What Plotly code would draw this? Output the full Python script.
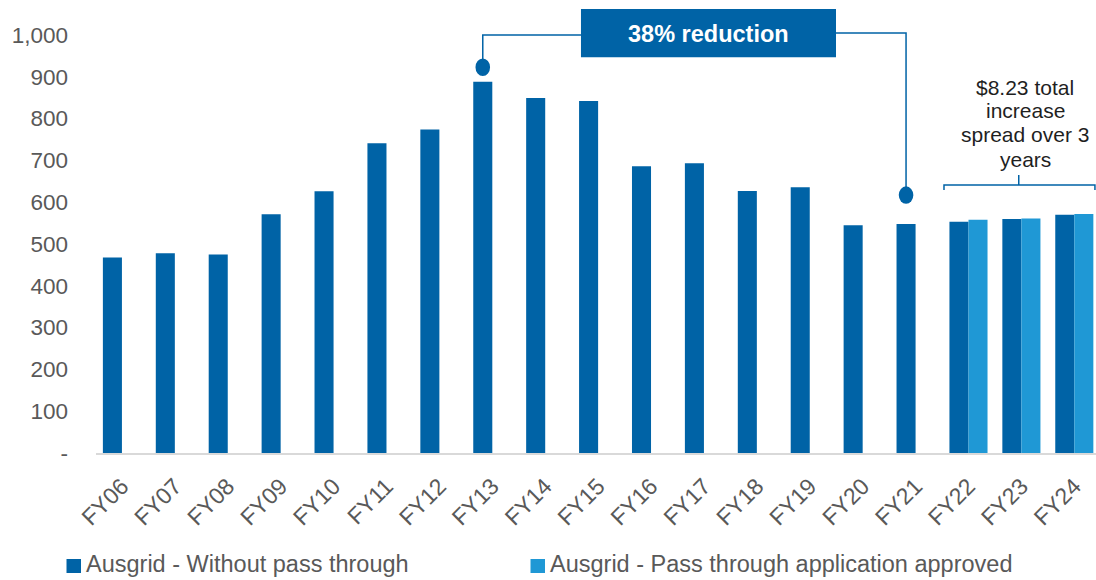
import plotly.graph_objects as go

# ---------------- data ----------------
categories = ["FY06", "FY07", "FY08", "FY09", "FY10", "FY11", "FY12", "FY13", "FY14",
              "FY15", "FY16", "FY17", "FY18", "FY19", "FY20", "FY21", "FY22", "FY23", "FY24"]
without_pass_through = [468, 478, 475, 571, 626, 741, 774, 888, 849, 842,
                        686, 693, 627, 636, 545, 548, 553, 560, 570]
with_pass_through = [None] * 16 + [558, 561, 572]
series_names = ["Ausgrid - Without pass through", "Ausgrid - Pass through application approved"]
y_tick_values = [0, 100, 200, 300, 400, 500, 600, 700, 800, 900, 1000]
y_tick_labels = ["-", "100", "200", "300", "400", "500", "600", "700", "800", "900", "1,000"]
reduction_label = "38% reduction"
bracket_lines = ["$8.23 total", "increase", "spread over 3", "years"]

# ---------------- style ----------------
DARK = "#0063A6"
LIGHT = "#1F98D5"
GREY = "#595959"
FONT = "Liberation Sans, Arial, sans-serif"
W, H = 1096, 580
ML, MB = 96, 127
PLOT_H = H - MB
PX_PER_UNIT = 0.418
Y_MAX = PLOT_H / PX_PER_UNIT
X_RANGE = [-0.49, 18.41]
BAR_GAP = 0.28
HALF_BAR = (1 - BAR_GAP) / 4  # offset of each bar in a pair

x_idx = list(range(len(categories)))

fig = go.Figure()
fig.add_trace(go.Bar(x=x_idx, y=without_pass_through, name=series_names[0],
                     marker=dict(color=DARK, line=dict(width=0)), showlegend=False))
fig.add_trace(go.Bar(x=x_idx, y=with_pass_through, name=series_names[1],
                     marker=dict(color=LIGHT, line=dict(width=0)), showlegend=False))

shapes = []
annotations = []

# ---- "38% reduction" callout ----
i_peak = categories.index("FY13")
i_low = categories.index("FY21")
x_peak = i_peak - HALF_BAR
x_low = i_low - HALF_BAR
peak_dot_y = without_pass_through[i_peak] + 35
low_dot_y = without_pass_through[i_low] + 69
box_x0, box_x1 = 8.676, 13.496
box_y0, box_y1 = 947, 1062
line_y_left, line_y_right = 1000, 1005

shapes.append(dict(type="path", xref="x", yref="y",
                   path=f"M {box_x0},{line_y_left} L {x_peak},{line_y_left} L {x_peak},{peak_dot_y}",
                   line=dict(color=DARK, width=1.5)))
shapes.append(dict(type="path", xref="x", yref="y",
                   path=f"M {box_x1},{line_y_right} L {x_low},{line_y_right} L {x_low},{low_dot_y}",
                   line=dict(color=DARK, width=1.5)))
for cx, cy in [(x_peak, peak_dot_y), (x_low, low_dot_y)]:
    shapes.append(dict(type="circle", xref="x", yref="y",
                       x0=cx - 0.138, x1=cx + 0.138, y0=cy - 21, y1=cy + 21,
                       fillcolor=DARK, line=dict(width=0)))
shapes.append(dict(type="rect", xref="x", yref="y", x0=box_x0, x1=box_x1, y0=box_y0, y1=box_y1,
                   fillcolor=DARK, line=dict(width=0)))
annotations.append(dict(x=(box_x0 + box_x1) / 2, y=(box_y0 + box_y1) / 2 - 2, xref="x", yref="y",
                        text=f"<b>{reduction_label}</b>", showarrow=False,
                        font=dict(family=FONT, size=23.5, color="white"),
                        xanchor="center", yanchor="middle"))

# ---- bracket over FY22-FY24 ----
br_x0, br_x1, br_mid = 15.537, 18.39, 16.95
br_y, br_y_end, br_y_tip = 641, 629, 665
shapes.append(dict(type="path", xref="x", yref="y",
                   path=(f"M {br_x0},{br_y_end} L {br_x0},{br_y} L {br_x1},{br_y} L {br_x1},{br_y_end} "
                         f"M {br_mid},{br_y} L {br_mid},{br_y_tip}"),
                   line=dict(color=DARK, width=1.5)))
line_ys = [875.6, 818.2, 760.8, 703.3]
for txt, ly in zip(bracket_lines, line_ys):
    annotations.append(dict(x=17.07, y=ly, xref="x", yref="y", text=txt, showarrow=False,
                            font=dict(family=FONT, size=21, color="#1f1f1f"),
                            xanchor="center", yanchor="middle"))

# ---- manual legend ----
def px_to_paper_x(px):
    return (px - ML) / (W - ML)

def px_to_paper_y(py):
    return (PLOT_H - py) / PLOT_H

legend_items = [(66.5, DARK, series_names[0]), (530.5, LIGHT, series_names[1])]
for sx, col, name in legend_items:
    shapes.append(dict(type="rect", xref="paper", yref="paper",
                       x0=px_to_paper_x(sx), x1=px_to_paper_x(sx + 14.5),
                       y0=px_to_paper_y(573), y1=px_to_paper_y(559),
                       fillcolor=col, line=dict(width=0)))
    annotations.append(dict(x=px_to_paper_x(sx + 17), y=px_to_paper_y(564), xref="paper", yref="paper",
                            text=name, showarrow=False, xanchor="left", yanchor="middle",
                            font=dict(family=FONT, size=23.5, color=GREY)))

fig.update_layout(
    width=W, height=H,
    margin=dict(l=ML, r=0, t=0, b=MB, pad=0),
    paper_bgcolor="white", plot_bgcolor="white",
    barmode="group", bargap=BAR_GAP, bargroupgap=0,
    showlegend=False,
    shapes=shapes, annotations=annotations,
    font=dict(family=FONT, color=GREY),
)
fig.update_xaxes(range=X_RANGE, tickmode="array", tickvals=x_idx, ticktext=categories,
                 tickangle=-45, tickfont=dict(family=FONT, size=23, color=GREY),
                 showgrid=False, zeroline=False, showline=True, linecolor="#D9D9D9", linewidth=1.5,
                 ticks="", ticklabelstandoff=9, fixedrange=True)
fig.update_yaxes(range=[0, Y_MAX], tickmode="array", tickvals=y_tick_values, ticktext=y_tick_labels,
                 tickfont=dict(family=FONT, size=22.5, color=GREY),
                 showgrid=False, zeroline=False, showline=False, ticks="",
                 ticklabelstandoff=27, fixedrange=True)

fig.write_html("out.html")
